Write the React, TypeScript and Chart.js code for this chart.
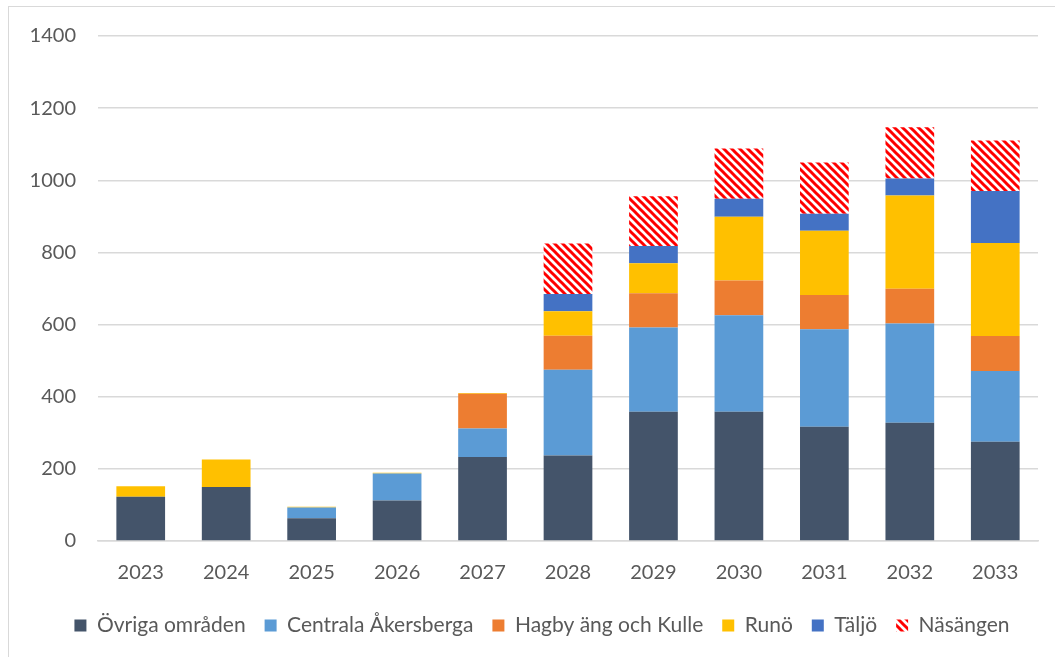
import React, { useEffect, useRef } from "react";
import { Chart, registerables } from "chart.js";

Chart.register(...registerables);

const years = ["2023", "2024", "2025", "2026", "2027", "2028", "2029", "2030", "2031", "2032", "2033"];
const ovriga = [123, 150, 63, 112, 233, 237, 358, 358, 317, 328, 275];
const centrala = [0, 0, 30, 75, 79, 238, 234, 268, 270, 275, 196];
const hagby = [0, 0, 0, 0, 96, 94, 95, 96, 95, 96, 97];
const runo = [29, 76, 2, 2, 2, 68, 83, 177, 178, 259, 258];
const taljo = [0, 0, 0, 0, 0, 48, 48, 50, 47, 47, 144];
const nasangen = [0, 0, 0, 0, 0, 140, 138, 139, 142, 142, 140];

const FONT = "Lato, 'Liberation Sans', sans-serif";
const FS = 20;
const TEXT = "#595959";
const GRID = "#d9d9d9";

function makeStripes(): CanvasPattern | string {
  const c = document.createElement("canvas");
  c.width = 8;
  c.height = 8;
  const ctx = c.getContext("2d");
  if (!ctx) return "#ff0000";
  ctx.fillStyle = "#ffffff";
  ctx.fillRect(0, 0, 8, 8);
  ctx.strokeStyle = "#ff0000";
  ctx.lineWidth = 3;
  ctx.lineCap = "square";
  for (const off of [-8, 0, 8]) {
    ctx.beginPath();
    ctx.moveTo(off - 2, -2);
    ctx.lineTo(off + 10, 10);
    ctx.stroke();
  }
  const p = ctx.createPattern(c, "repeat");
  return p || "#ff0000";
}

const shiftLegend = {
  id: "shiftLegend",
  afterLayout(chart: any) {
    const lg = chart.legend;
    if (lg) {
      lg.left += 18.5;
      lg.right += 18.5;
    }
  },
};

export default function App() {
  const ref = useRef<HTMLCanvasElement | null>(null);

  useEffect(() => {
    if (!ref.current) return;
    const stripes = makeStripes();
    const chart = new Chart(ref.current, {
      type: "bar",
      data: {
        labels: years,
        datasets: [
          { label: "Övriga områden", data: ovriga, backgroundColor: "#44546A" },
          { label: "Centrala Åkersberga", data: centrala, backgroundColor: "#5B9BD5" },
          { label: "Hagby äng och Kulle", data: hagby, backgroundColor: "#ED7D31" },
          { label: "Runö", data: runo, backgroundColor: "#FFC000" },
          { label: "Täljö", data: taljo, backgroundColor: "#4472C4" },
          { label: "Näsängen", data: nasangen, backgroundColor: stripes as any },
        ],
      },
      plugins: [shiftLegend],
      options: {
        responsive: false,
        animation: false,
        maintainAspectRatio: false,
        datasets: { bar: { barPercentage: 0.57, categoryPercentage: 1 } },
        layout: { padding: { top: 11, right: 11, left: 0, bottom: 12 } },
        plugins: {
          tooltip: { enabled: false },
          legend: {
            position: "bottom",
            labels: {
              color: TEXT,
              font: { family: FONT, size: 21 },
              boxWidth: 12,
              boxHeight: 12,
              padding: 19,
            },
          },
        },
        scales: {
          x: {
            stacked: true,
            grid: { display: false },
            border: { display: true, color: GRID, width: 1.5 },
            ticks: { color: TEXT, font: { family: FONT, size: FS }, padding: 12 },
            afterFit: (s: any) => {
              s.height = s.height - 1;
            },
          },
          y: {
            stacked: true,
            min: 0,
            max: 1400,
            afterFit: (s: any) => {
              s.width = 89;
            },
            grid: { color: GRID, lineWidth: 1.5, drawTicks: false },
            border: { display: false },
            ticks: {
              stepSize: 200,
              color: TEXT,
              font: { family: FONT, size: FS },
              padding: 22,
              callback: (v: any) => String(v),
            },
          },
        },
      },
    });
    return () => chart.destroy();
  }, []);

  return (
    <div
      style={{
        position: "absolute",
        left: 8,
        top: 6,
        width: 1060,
        height: 660,
        borderLeft: "1.5px solid " + GRID,
        borderTop: "1.5px solid " + GRID,
        background: "#fff",
        overflow: "hidden",
      }}
    >
      <canvas ref={ref} width={1040} height={656} style={{ display: "block", marginTop: -5 }} />
    </div>
  );
}
